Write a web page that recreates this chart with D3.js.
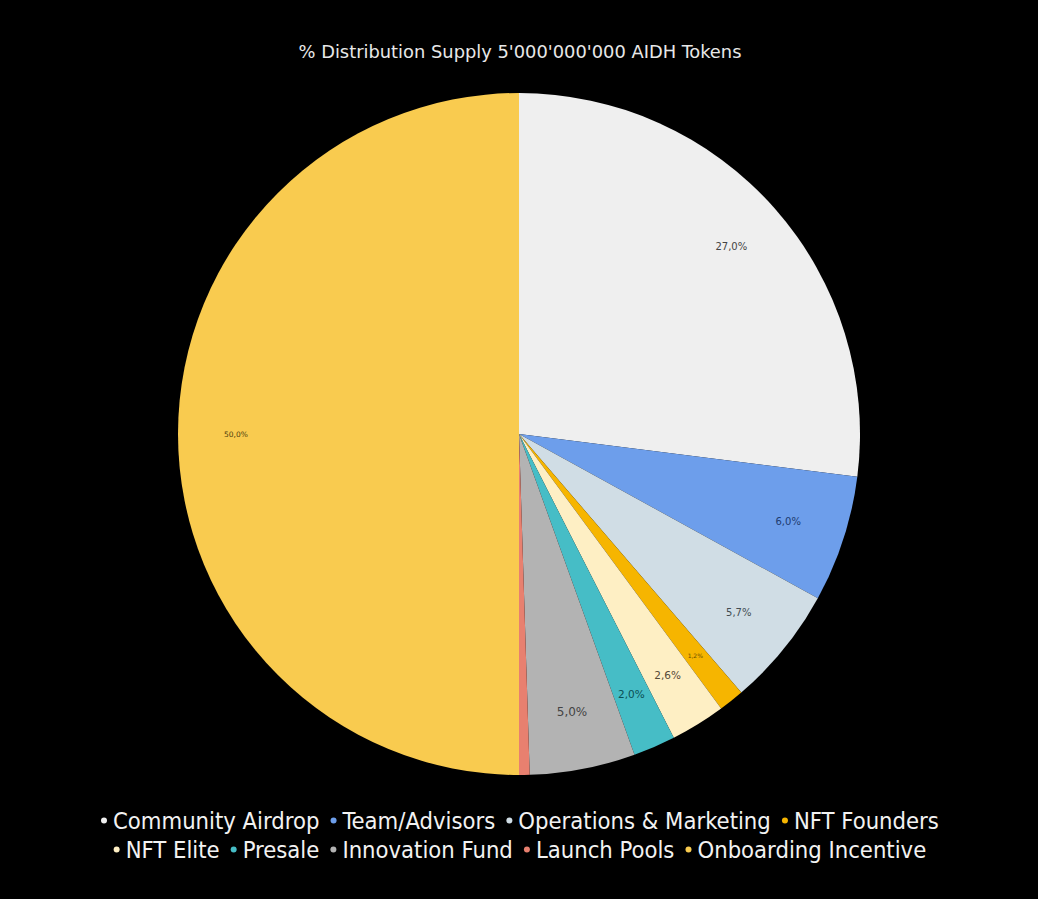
<!DOCTYPE html>
<html>
<head>
<meta charset="utf-8">
<script src="https://cdn.jsdelivr.net/npm/d3@7/dist/d3.min.js"></script>
<style>
  html, body { margin: 0; padding: 0; background: #000; }
  svg { display: block; }
</style>
</head>
<body>
<svg id="chart" width="1038" height="899"></svg>
<script>
// ---- data ----
const categories = ["Community Airdrop", "Team/Advisors", "Operations & Marketing", "NFT Founders",
  "NFT Elite", "Presale", "Innovation Fund", "Launch Pools", "Onboarding Incentive"];
const values = [27.0, 6.0, 5.7, 1.2, 2.6, 2.0, 5.0, 0.5, 50.0];
const valueLabels = ["27,0%", "6,0%", "5,7%", "1,2%", "2,6%", "2,0%", "5,0%", "", "50,0%"];
const titleText = "% Distribution Supply 5'000'000'000 AIDH Tokens";

// ---- styles ----
const colors = ["#efefef", "#6d9eeb", "#d0dde5", "#f6b500", "#feefc4", "#46bdc6", "#b3b3b3", "#e8806f", "#f9cb4f"];
const labelColors = ["#444444", "#1d3b70", "#444c52", "#6b4e00", "#554a38", "#0b4f55", "#444444", "#5a2a20", "#4f400c"];
const labelFontSizes = [10, 10, 10, 6, 10.5, 10.5, 12, 8, 7.5];

const W = 1038, H = 899;
const cx = 519, cy = 434, R = 341;
const svg = d3.select("#chart");
svg.append("rect").attr("width", W).attr("height", H).attr("fill", "#000");

svg.append("text")
  .attr("x", 520).attr("y", 58)
  .attr("text-anchor", "middle")
  .attr("fill", "#e8e8e8")
  .attr("font-family", "DejaVu Sans Condensed, DejaVu Sans, sans-serif")
  .attr("font-size", 17.5)
  .attr("textLength", 443)
  .attr("lengthAdjust", "spacingAndGlyphs")
  .text(titleText);

const data = categories.map((c, i) => ({ name: c, value: values[i], label: valueLabels[i], i }));
const pie = d3.pie().sort(null).value(d => d.value);
const arcs = pie(data);
const arc = d3.arc().innerRadius(0).outerRadius(R);
const labelArc = d3.arc().innerRadius(R * 0.83).outerRadius(R * 0.83);

const g = svg.append("g").attr("transform", `translate(${cx},${cy})`);
g.selectAll("path.slice").data(arcs).join("path")
  .attr("class", "slice")
  .attr("d", arc)
  .attr("fill", d => colors[d.data.i]);

g.selectAll("text.lbl").data(arcs.filter(d => d.data.label)).join("text")
  .attr("class", "lbl")
  .attr("transform", d => `translate(${labelArc.centroid(d)})`)
  .attr("text-anchor", "middle")
  .attr("dominant-baseline", "central")
  .attr("font-family", "DejaVu Sans, sans-serif")
  .attr("font-size", d => labelFontSizes[d.data.i])
  .attr("fill", d => labelColors[d.data.i])
  .text(d => d.data.label);

// ---- legend ----
const legendFont = "DejaVu Sans Condensed, DejaVu Sans, sans-serif";
const lg = svg.append("g");
const measure = lg.append("text").attr("font-family", legendFont).attr("font-size", 20).attr("visibility", "hidden");
const widths20 = categories.map(c => { measure.text(c); return measure.node().getComputedTextLength(); });
measure.remove();
const dotGap = 9, itemGap = 14, dotR = 3;
const line1 = [0, 1, 2, 3], line2 = [4, 5, 6, 7, 8];
const target1 = 938 - 100 - dotR;
const sumW1 = line1.reduce((s, i) => s + widths20[i], 0);
const fixed1 = line1.length * dotGap + (line1.length - 1) * itemGap;
const scale = (target1 - fixed1) / sumW1;
const fs = 20 * scale;
const widths = widths20.map(w => w * scale);
function drawLine(items, baseline) {
  const total = items.reduce((s, i) => s + widths[i], 0) + items.length * dotGap + (items.length - 1) * itemGap + dotR;
  let x = 520 - total / 2 + dotR;
  items.forEach(i => {
    lg.append("circle").attr("cx", x).attr("cy", baseline - fs * 0.36).attr("r", dotR).attr("fill", colors[i]);
    lg.append("text").attr("x", x + dotGap).attr("y", baseline)
      .attr("font-family", legendFont).attr("font-size", fs).attr("fill", "#f2f2f2")
      .text(categories[i]);
    x += dotGap + widths[i] + itemGap;
  });
}
drawLine(line1, 829);
drawLine(line2, 858);
</script>
</body>
</html>
